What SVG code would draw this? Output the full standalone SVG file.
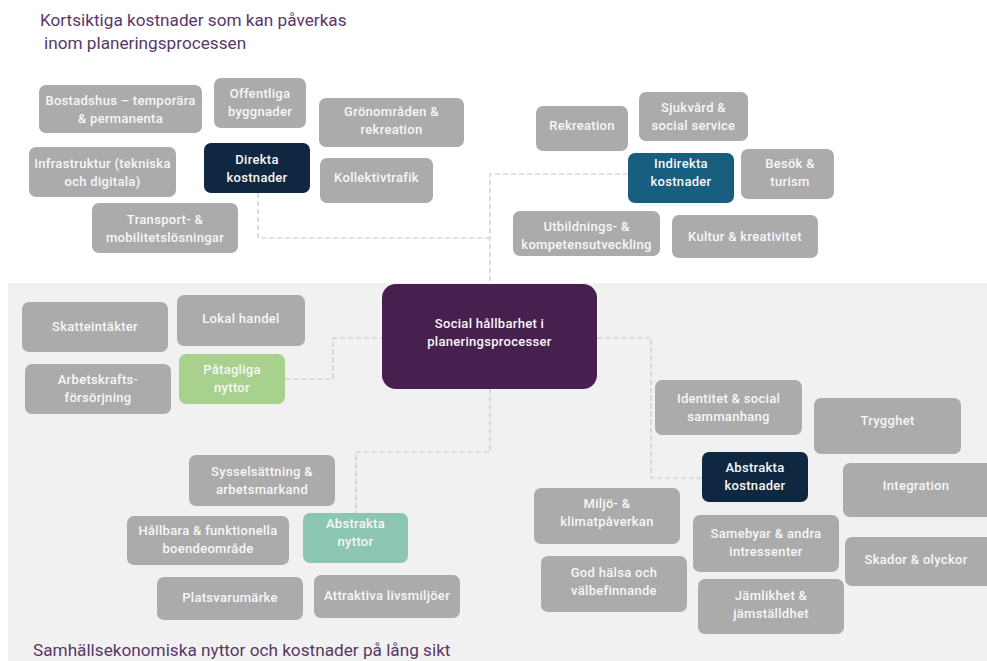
<svg xmlns="http://www.w3.org/2000/svg" width="987" height="661" viewBox="0 0 987 661">
<style>
.g{fill:#ababab}
.n rect{rx:7px}
.t{font-family:Roboto,"Liberation Sans",sans-serif;font-weight:500;font-size:13px;letter-spacing:0.3px;fill:#f7f7f7;text-anchor:middle}
.h{font-family:Roboto,"Liberation Sans",sans-serif;font-size:17.2px;fill:#5a3768}
.c{fill:none;stroke:#c6c6c6;stroke-width:1.2;stroke-dasharray:5 3}
</style>
<rect width="987" height="661" fill="#ffffff"/>
<rect x="8" y="283" width="979" height="378" fill="#f1f1f1"/>
<text class="h" x="40" y="26">Kortsiktiga kostnader som kan påverkas</text>
<text class="h" x="44" y="49">inom planeringsprocessen</text>
<text class="h" x="33" y="656">Samhällsekonomiska nyttor och kostnader på lång sikt</text>
<g id="connectors">
<path class="c" d="M258 193V238H490"/>
<path class="c" d="M628 174H490V284"/>
<path class="c" d="M285 379H333V338H382"/>
<path class="c" d="M597 338H651V478H702"/>
<path class="c" d="M490 389V452H356V513"/>
</g>
<g id="bostadshus" class="n"><rect class="g" x="39" y="85" width="163" height="48"/><text class="t" x="120.5" y="105">Bostadshus – temporära</text><text class="t" x="120.5" y="123">&amp; permanenta</text></g>
<g id="offentliga" class="n"><rect class="g" x="214" y="78" width="92" height="50"/><text class="t" x="260" y="98">Offentliga</text><text class="t" x="260" y="116">byggnader</text></g>
<g id="gronomraden" class="n"><rect class="g" x="319" y="98" width="145" height="49"/><text class="t" x="391.5" y="116">Grönområden &amp;</text><text class="t" x="391.5" y="134">rekreation</text></g>
<g id="infrastruktur" class="n"><rect class="g" x="29" y="147" width="147" height="50"/><text class="t" x="102.5" y="168">Infrastruktur (tekniska</text><text class="t" x="102.5" y="186">och digitala)</text></g>
<g id="direkta" class="n"><rect x="204" y="143" width="106" height="50" fill="#0f2740"/><text class="t" x="257" y="164">Direkta</text><text class="t" x="257" y="182">kostnader</text></g>
<g id="kollektivtrafik" class="n"><rect class="g" x="320" y="158" width="113" height="45"/><text class="t" x="376.5" y="182">Kollektivtrafik</text></g>
<g id="transport" class="n"><rect class="g" x="92" y="203" width="146" height="50"/><text class="t" x="165" y="224">Transport- &amp;</text><text class="t" x="165" y="242">mobilitetslösningar</text></g>
<g id="rekreation" class="n"><rect class="g" x="536" y="106" width="92" height="45"/><text class="t" x="582" y="130">Rekreation</text></g>
<g id="sjukvard" class="n"><rect class="g" x="639" y="92" width="109" height="49"/><text class="t" x="693.5" y="112">Sjukvård &amp;</text><text class="t" x="693.5" y="130">social service</text></g>
<g id="indirekta" class="n"><rect x="628" y="153" width="106" height="50" fill="#175e80"/><text class="t" x="681" y="168">Indirekta</text><text class="t" x="681" y="186">kostnader</text></g>
<g id="besok" class="n"><rect class="g" x="741" y="149" width="93" height="50"/><text class="t" x="790" y="168">Besök &amp;</text><text class="t" x="790" y="186">turism</text></g>
<g id="utbildning" class="n"><rect class="g" x="513" y="211" width="147" height="45"/><text class="t" x="586.5" y="231">Utbildnings- &amp;</text><text class="t" x="586.5" y="249">kompetensutveckling</text></g>
<g id="kultur" class="n"><rect class="g" x="672" y="215" width="146" height="43"/><text class="t" x="745" y="241">Kultur &amp; kreativitet</text></g>
<g id="social" class="n"><rect x="382" y="284" width="215" height="105" rx="14" style="rx:14px" fill="#47204f"/><text class="t" x="489.5" y="328">Social hållbarhet i</text><text class="t" x="489.5" y="346">planeringsprocesser</text></g>
<g id="skatteintakter" class="n"><rect class="g" x="22" y="302" width="146" height="50"/><text class="t" x="95" y="331">Skatteintäkter</text></g>
<g id="lokalhandel" class="n"><rect class="g" x="177" y="295" width="128" height="51"/><text class="t" x="241" y="323">Lokal handel</text></g>
<g id="arbetskrafts" class="n"><rect class="g" x="25" y="364" width="146" height="50"/><text class="t" x="98" y="384">Arbetskrafts-</text><text class="t" x="98" y="402">försörjning</text></g>
<g id="patagliga" class="n"><rect x="179" y="354" width="106" height="50" fill="#a9d18e"/><text class="t" x="232" y="374">Påtagliga</text><text class="t" x="232" y="392">nyttor</text></g>
<g id="sysselsattning" class="n"><rect class="g" x="189" y="455" width="146" height="51"/><text class="t" x="262" y="476">Sysselsättning &amp;</text><text class="t" x="262" y="494">arbetsmarkand</text></g>
<g id="hallbara" class="n"><rect class="g" x="127" y="516" width="162" height="49"/><text class="t" x="208" y="535">Hållbara &amp; funktionella</text><text class="t" x="208" y="553">boendeområde</text></g>
<g id="abstraktanyttor" class="n"><rect x="303" y="513" width="105" height="50" fill="#8dc5b3"/><text class="t" x="355.5" y="528">Abstrakta</text><text class="t" x="355.5" y="546">nyttor</text></g>
<g id="platsvarumarke" class="n"><rect class="g" x="157" y="577" width="146" height="43"/><text class="t" x="230" y="602">Platsvarumärke</text></g>
<g id="attraktiva" class="n"><rect class="g" x="314" y="575" width="146" height="43"/><text class="t" x="387" y="600">Attraktiva livsmiljöer</text></g>
<g id="identitet" class="n"><rect class="g" x="655" y="380" width="147" height="55"/><text class="t" x="728.5" y="403">Identitet &amp; social</text><text class="t" x="728.5" y="421">sammanhang</text></g>
<g id="trygghet" class="n"><rect class="g" x="814" y="398" width="147" height="56"/><text class="t" x="887.5" y="425">Trygghet</text></g>
<g id="abstraktakostnader" class="n"><rect x="702" y="452" width="106" height="50" fill="#0f2740"/><text class="t" x="755" y="472">Abstrakta</text><text class="t" x="755" y="490">kostnader</text></g>
<g id="integration" class="n"><rect class="g" x="843" y="463" width="150" height="54"/><text class="t" x="916" y="490">Integration</text></g>
<g id="miljo" class="n"><rect class="g" x="534" y="488" width="146" height="56"/><text class="t" x="607" y="508">Miljö- &amp;</text><text class="t" x="607" y="526">klimatpåverkan</text></g>
<g id="samebyar" class="n"><rect class="g" x="693" y="515" width="146" height="57"/><text class="t" x="766" y="538">Samebyar &amp; andra</text><text class="t" x="766" y="556">intressenter</text></g>
<g id="skador" class="n"><rect class="g" x="845" y="537" width="150" height="49"/><text class="t" x="916" y="564">Skador &amp; olyckor</text></g>
<g id="godhalsa" class="n"><rect class="g" x="541" y="556" width="146" height="56"/><text class="t" x="614" y="577">God hälsa och</text><text class="t" x="614" y="595">välbefinnande</text></g>
<g id="jamlikhet" class="n"><rect class="g" x="698" y="579" width="146" height="55"/><text class="t" x="771" y="600">Jämlikhet &amp;</text><text class="t" x="771" y="618">jämställdhet</text></g>
</svg>
